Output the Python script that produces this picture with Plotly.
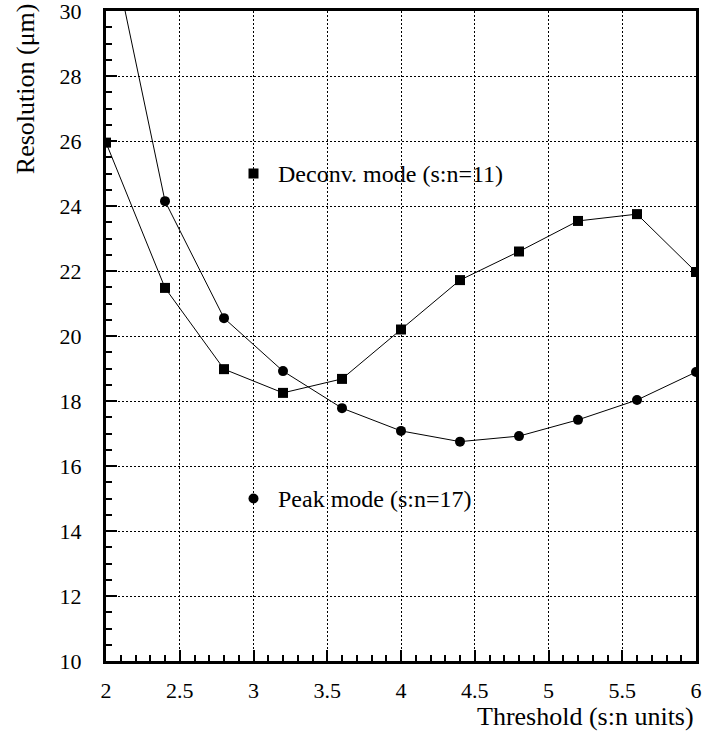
import plotly.graph_objects as go

threshold = [2.0, 2.4, 2.8, 3.2, 3.6, 4.0, 4.4, 4.8, 5.2, 5.6, 6.0]
deconv_res = [25.95, 21.48, 18.98, 18.25, 18.68, 20.2, 21.72, 22.6, 23.54, 23.75, 21.97]
peak_res = [32.8, 24.15, 20.55, 18.92, 17.78, 17.08, 16.75, 16.92, 17.42, 18.03, 18.89]
x_ticks = [2, 2.5, 3, 3.5, 4, 4.5, 5, 5.5, 6]
x_labels = ["2", "2.5", "3", "3.5", "4", "4.5", "5", "5.5", "6"]
y_ticks = [10, 12, 14, 16, 18, 20, 22, 24, 26, 28, 30]
y_labels = [str(v) for v in y_ticks]
legend_x = [3.0]
deconv_label_y = [25.0]
peak_label_y = [15.0]
deconv_label = "Deconv. mode (s:n=11)"
peak_label = "Peak mode (s:n=17)"

FONT = "'Liberation Serif', 'Times New Roman', Times, serif"

fig = go.Figure()
fig.add_trace(go.Scatter(
    x=threshold, y=deconv_res, mode="lines+markers",
    line=dict(color="black", width=1),
    marker=dict(symbol="square", size=10, color="black"),
    cliponaxis=True, showlegend=False))
fig.add_trace(go.Scatter(
    x=threshold, y=peak_res, mode="lines+markers",
    line=dict(color="black", width=1),
    marker=dict(symbol="circle", size=10, color="black"),
    cliponaxis=True, showlegend=False))

# in-plot legend keys
fig.add_trace(go.Scatter(
    x=legend_x, y=deconv_label_y, mode="markers",
    marker=dict(symbol="square", size=10, color="black"),
    cliponaxis=False, showlegend=False))
fig.add_trace(go.Scatter(
    x=legend_x, y=peak_label_y, mode="markers",
    marker=dict(symbol="circle", size=10, color="black"),
    cliponaxis=False, showlegend=False))
fig.add_annotation(
    text=deconv_label, x=3.15, y=deconv_label_y[0], xref="x", yref="y",
    xanchor="left", yanchor="middle", showarrow=False,
    font=dict(family=FONT, size=24, color="black"))
fig.add_annotation(
    text=peak_label, x=3.15, y=peak_label_y[0], xref="x", yref="y",
    xanchor="left", yanchor="middle", showarrow=False,
    font=dict(family=FONT, size=24, color="black"))

axis_common = dict(
    showline=True, linecolor="black", linewidth=3, mirror=True,
    ticks="inside", ticklen=11, tickwidth=1.5, tickcolor="black",
    showgrid=True, gridcolor="black", griddash="2px,2px", gridwidth=1,
    zeroline=False, automargin=False, ticklabeloverflow="allow",
    tickfont=dict(family=FONT, size=22, color="black"),
)

fig.update_xaxes(
    range=[2, 6], tickvals=x_ticks, ticktext=x_labels,
    minor=dict(dtick=0.1, ticks="inside", ticklen=6, tickwidth=1.5,
               tickcolor="black", showgrid=False),
    ticklabelstandoff=8,
    **axis_common)
fig.update_yaxes(
    range=[10, 30], tickvals=y_ticks, ticktext=y_labels,
    minor=dict(dtick=0.5, ticks="inside", ticklen=6, tickwidth=1.5,
               tickcolor="black", showgrid=False),
    ticklabelstandoff=17,
    **axis_common)

fig.add_annotation(
    text="Threshold (s:n units)", xref="paper", yref="paper",
    x=1.0, y=-0.086, xanchor="right", yanchor="middle", showarrow=False,
    font=dict(family=FONT, size=26, color="black"))
fig.add_annotation(
    text="Resolution (\u03bcm)", xref="paper", yref="paper",
    x=-0.137, y=0.88, xanchor="center", yanchor="middle", textangle=-90,
    showarrow=False, font=dict(family=FONT, size=26, color="black"))

fig.update_layout(
    width=704, height=737,
    margin=dict(l=106, r=8, t=11, b=76, autoexpand=False),
    plot_bgcolor="white", paper_bgcolor="white",
    font=dict(family=FONT, color="black"),
)

fig.write_html("out.html")
